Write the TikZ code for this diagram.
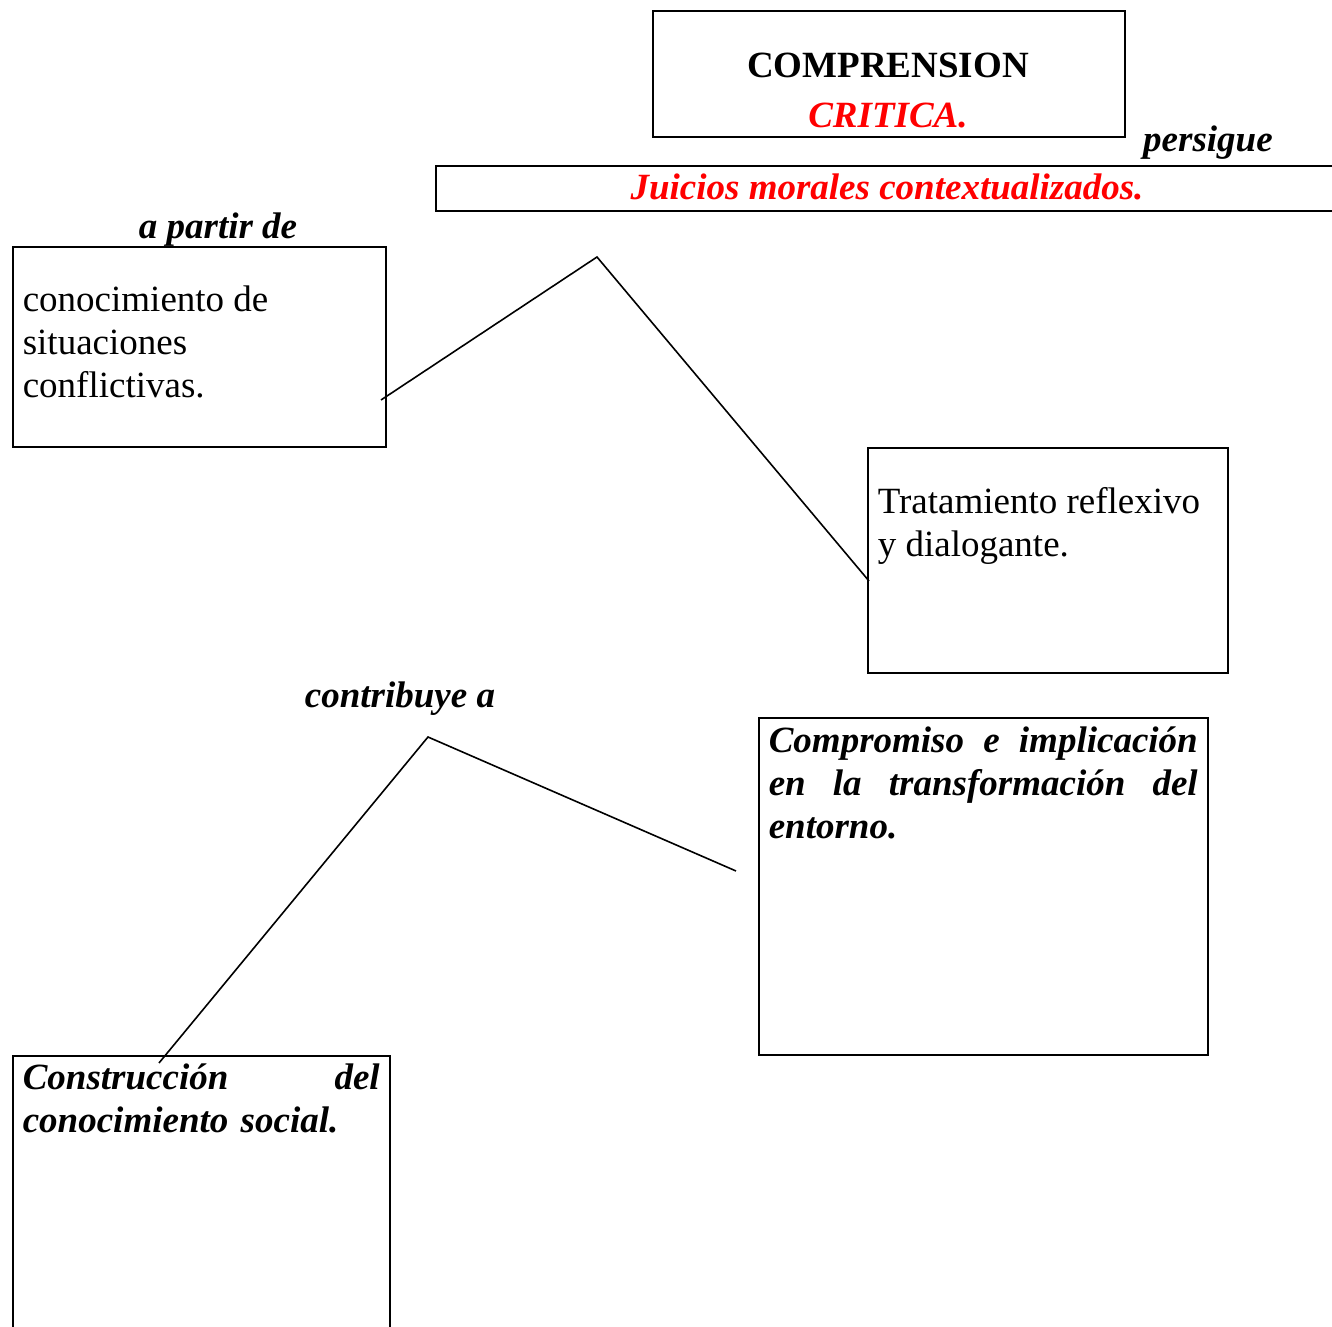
\documentclass[tikz,border=0pt]{standalone}
\usepackage{fontspec}
\setmainfont{Liberation Serif}
\begin{document}
\begin{tikzpicture}[x=0.25pt, y=-0.25pt,
  caja/.style={draw, line width=0.5pt, inner sep=0, anchor=north west},
  enlace/.style={line width=0.4pt},
  rotulo/.style={font=\fontsize{9.25}{10.75}\selectfont\bfseries\itshape, anchor=base, inner sep=0},
  texto/.style={font=\fontsize{9.25}{10.75}\selectfont, anchor=base west, inner sep=0, align=left},
  ]
  \useasboundingbox (0,0) rectangle (1332,1327);

  % Define boxes
  \node[caja, minimum width=118pt, minimum height=31.5pt]   (comprension)  at (652,10)   {};
  \node[caja, minimum width=227.5pt, minimum height=11.25pt] (juicios)     at (435,165)  {};
  \node[caja, minimum width=93.25pt, minimum height=50pt]   (conocimiento) at (12,246)   {};
  \node[caja, minimum width=90pt, minimum height=56.25pt]   (tratamiento)  at (867,447)  {};
  \node[caja, minimum width=112.25pt, minimum height=84.25pt] (compromiso)  at (758,717)  {};
  \node[caja, minimum width=94.25pt, minimum height=71.25pt] (construccion) at (12,1055)  {};

  % Texts (plain ones sit on their last baseline)
  \node[rotulo, font=\fontsize{9.25}{10.75}\selectfont\bfseries] (t-comp) at (888,78) {COMPRENSION};
  \node[rotulo, text=red] (t-crit) at (888,128) {CRITICA.};
  \node[rotulo] (persigue) at (1208,152) {persigue};
  \node[rotulo, text=red] (t-juic) at (887,200) {Juicios morales contextualizados.};
  \node[rotulo] (apartir) at (218,239) {a partir de};
  \node[texto] (t-cono) at (22,398) {conocimiento de\\situaciones\\conflictivas.};
  \node[texto] (t-trat) at (877,557) {Tratamiento reflexivo\\y dialogante.};
  \node[rotulo] (contribuye) at (400,708) {contribuye a};
  \node[texto, font=\fontsize{9.25}{10.75}\selectfont\bfseries\itshape, text width=107.25pt] (t-compr) at (768,753)
    {Compromiso \hfill e \hfill implicación\\en \hfill la \hfill transformación \hfill del\\entorno.};
  \node[texto, font=\fontsize{9.25}{10.75}\selectfont\bfseries\itshape, text width=89.25pt] (t-const) at (22,1090)
    {Construcción \hfill del\\conocimiento social.};

  % Connect the boxes
  \coordinate (a1) at (381,400);
  \coordinate (a2) at (597,257);
  \coordinate (a3) at (869,581);
  \coordinate (b1) at (736,871);
  \coordinate (b2) at (428,737);
  \coordinate (b3) at (159,1063);
  \draw[enlace] (a1) -- (a2) -- (a3);
  \draw[enlace] (b1) -- (b2) -- (b3);

\end{tikzpicture}
\end{document}
